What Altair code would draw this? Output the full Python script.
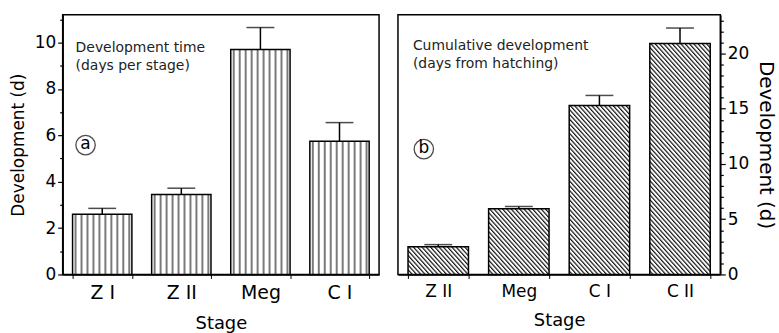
import base64
import altair as alt
import pandas as pd

# ---------------- data ----------------
stages_a = ["Z I", "Z II", "Meg", "C I"]
days_a = [2.6, 3.45, 9.7, 5.75]
err_a = [0.25, 0.27, 0.95, 0.8]

stages_b = ["Z II", "Meg", "C I", "C II"]
days_b = [2.5, 5.95, 15.3, 20.9]
err_b = [0.2, 0.2, 0.9, 1.4]

ticks_a = list(range(0, 12))
ticks_b = list(range(0, 24))

note_a = ["Development time", "(days per stage)"]
note_b = ["Cumulative development", "(days from hatching)"]

FONT = "DejaVu Sans"


def svg_url(svg):
    return "data:image/svg+xml;base64," + base64.b64encode(svg.encode()).decode()


vert_svg = (
    '<svg xmlns="http://www.w3.org/2000/svg" width="100%" height="100%">'
    '<defs><pattern id="p" width="6" height="6" patternUnits="userSpaceOnUse">'
    '<rect width="6" height="6" fill="#ffffff"/>'
    '<rect x="2" y="0" width="2" height="6" fill="#7a7a7a"/>'
    '</pattern></defs><rect width="100%" height="100%" fill="url(#p)"/></svg>'
)
diag_svg = (
    '<svg xmlns="http://www.w3.org/2000/svg" width="100%" height="100%">'
    '<defs><pattern id="p" width="3.2" height="10" patternUnits="userSpaceOnUse" '
    'patternTransform="rotate(-42)">'
    '<rect width="3.2" height="10" fill="#ffffff"/>'
    '<rect x="0" y="0" width="1.2" height="10" fill="#111111"/>'
    '</pattern></defs><rect width="100%" height="100%" fill="url(#p)"/></svg>'
)


def panel(stages, days, errs, ticks, ymax, orient, hatch, note, letter,
          w, h, xlab_size, ytitle_size, note_xy, circ_xy, note_lh):
    df = pd.DataFrame({"stage": stages, "days": days, "err": errs})
    xenc = alt.X(
        "stage:N", sort=stages,
        scale=alt.Scale(paddingInner=0.25, paddingOuter=0.125),
        axis=alt.Axis(
            title="Stage", labelAngle=0, tickBand="extent", tickSize=4,
            labelPadding=5, labelFontSize=xlab_size, titleFontSize=18,
            titlePadding=12, labelFont=FONT, titleFont=FONT,
            titleFontWeight="normal", domainColor="black", tickColor="black",
            labelColor="black", titleColor="black", domainWidth=1.5,
        ),
    )
    major = 2 if orient == "left" else 5
    yscale = alt.Scale(domain=[0, ymax], nice=False, zero=True)
    yaxis = alt.Axis(
        title="Development (d)", orient=orient, values=ticks, grid=False,
        labelOverlap=False,
        labelExpr=f"datum.value % {major} == 0 ? datum.label : ''",
        tickSize={"condition": {"test": f"datum.value % {major} == 0", "value": 5}, "value": 3},
        labelPadding=2, labelFontSize=17, titleFontSize=ytitle_size,
        labelFont=FONT, titleFont=FONT, titleFontWeight="normal",
        titlePadding=7, domainColor="black", tickColor="black",
        labelColor="black", titleColor="black", domainWidth=1.5, tickWidth=1.2,
    )
    yenc = alt.Y("days:Q", scale=yscale, axis=yaxis)
    base = alt.Chart(df).transform_calculate(up="datum.days + datum.err")
    hatch_layer = base.mark_image(aspect=False).encode(
        x=xenc, y=yenc, y2=alt.datum(0), url=alt.value(svg_url(hatch))
    )
    outline = base.mark_bar(fill="transparent", stroke="black", strokeWidth=1.5).encode(
        x=xenc, y=yenc
    )
    stem = base.mark_rule(color="black", strokeWidth=1.5).encode(
        x=xenc, y=yenc, y2="up:Q"
    )
    cap = base.mark_tick(
        color="black", thickness=1.5, size=28, orient="horizontal"
    ).encode(x=xenc, y=alt.Y("up:Q", scale=yscale, axis=yaxis))
    one = pd.DataFrame({"t": [0]})
    text = alt.Chart(one).mark_text(
        align="left", baseline="alphabetic", font=FONT, fontSize=14,
        lineHeight=note_lh, color="#222222"
    ).encode(x=alt.value(note_xy[0]), y=alt.value(note_xy[1]), text=alt.value(note))
    circ = alt.Chart(one).mark_point(
        shape="circle", size=380, filled=False, stroke="black", strokeWidth=1.3
    ).encode(x=alt.value(circ_xy[0]), y=alt.value(circ_xy[1]))
    lett = alt.Chart(one).mark_text(
        align="center", baseline="middle", font=FONT, fontSize=17, color="black"
    ).encode(x=alt.value(circ_xy[0]), y=alt.value(circ_xy[1] - 1), text=alt.value(letter))
    return alt.layer(hatch_layer, outline, stem, cap, text, circ, lett).properties(
        width=w, height=h
    )


left = panel(stages_a, days_a, err_a, ticks_a, 11.2, "left", vert_svg, note_a, "a",
             318, 261, 19, 17, (13, 37), (23, 131), 19)
right = panel(stages_b, days_b, err_b, ticks_b, 23.5, "right", diag_svg, note_b, "b",
              324, 261, 17, 20, (15, 35), (26, 135), 18)

chart = alt.hconcat(left, right, spacing=17).properties(
    padding={"left": 8, "top": 8, "right": 2, "bottom": 0},
    background="white",
).configure_view(stroke="black", strokeWidth=1.5)

chart.save("out.html", embed_options={"renderer": "svg", "actions": False})
